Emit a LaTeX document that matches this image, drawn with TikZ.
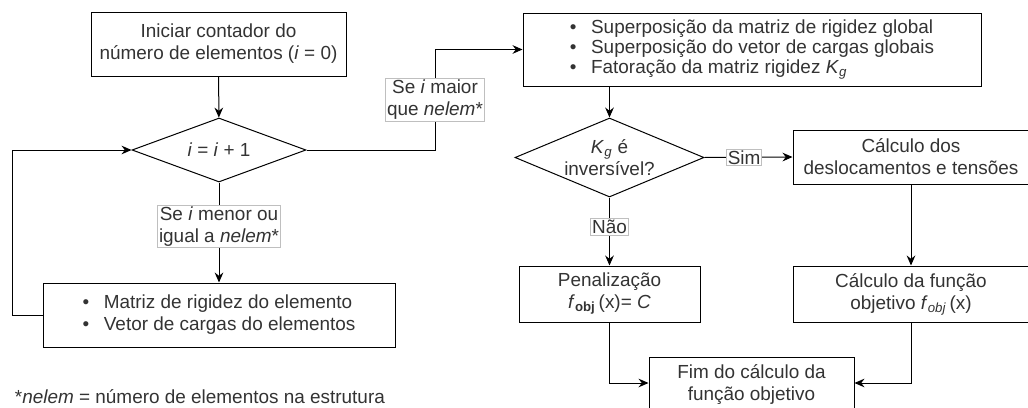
\documentclass[tikz,border=0pt]{standalone}
\usepackage{fontspec}
\setmainfont{Liberation Sans}
\usetikzlibrary{shapes.geometric,arrows.meta}

\newcommand\bul{\makebox[16pt][l]{\textbullet}}

\tikzset{
  caixa/.style={draw, rectangle, text=black!80, inner sep=0pt, align=center},
  losango/.style={draw, diamond, text=black!80, inner sep=0pt, align=center},
  rotulo/.style={draw=black!25, line width=0.5pt, fill=white, text=black!80, inner sep=1pt, align=center},
  seta/.style={-{Stealth[length=7.5pt,width=6.5pt,inset=2.5pt]}},
}

\begin{document}
\begin{tikzpicture}[x=0.75pt, y=-0.75pt, line width=0.75pt, font=\fontsize{14.2}{16.5}\selectfont]
\useasboundingbox (0,0) rectangle (1028,407);
\clip (0,0) rectangle (1028,407);

%lado esquerdo
\node[caixa, minimum width=191.25pt, minimum height=48pt] (inicio) at (218.5,44) {Iniciar contador do\\número de elementos (\textit{i} = 0)};
\node[losango, shape aspect=2.7, minimum width=130.5pt, minimum height=48pt] (cont) at (219,150) {\textit{i} = \textit{i} + 1};
\node[caixa, minimum width=264pt, minimum height=48pt, align=left] (elem) at (219,315) {\bul Matriz de rigidez do elemento\\\bul Vetor de cargas do elementos};
\node[anchor=west, text=black!80] (nota) at (10,397) {*\textit{nelem} = número de elementos na estrutura};

%lado direito
\node[caixa, minimum width=343.5pt, minimum height=54.75pt, align=left, font=\fontsize{14.2}{15}\selectfont] (global) at (752,49.5) {\bul Superposição da matriz de rigidez global\\\bul Superposição do vetor de cargas globais\\\bul Fatoração da matriz rigidez \textit{K}\textsubscript{\textit{g}}};
\node[losango, shape aspect=2.4, minimum width=141.75pt, minimum height=59.25pt] (inv) at (609.5,157.5) {\textit{K}\textsubscript{\textit{g}} é\\inversível?};
\node[caixa, minimum width=177pt, minimum height=40.5pt] (desl) at (911,157) {Cálculo dos\\deslocamentos e tensões};
\node[caixa, minimum width=135.75pt, minimum height=42pt] (pen) at (609.5,294) {Penalização\\\textit{f}\textsubscript{\textbf{obj}}\,(x)= \textit{C}};
\node[caixa, minimum width=177pt, minimum height=42pt] (fobj) at (911,294) {Cálculo da função\\objetivo \textit{f}\textsubscript{\textit{obj}}\,(x)};
\node[caixa, minimum width=153.75pt, minimum height=42pt] (fim) at (751.5,385) {Fim do cálculo da\\função objetivo};

%ligacoes
\coordinate (volta) at (12,315);
\coordinate (canto) at (435,150);
\draw[seta] (inicio) -- (cont);
\draw[seta] (cont) -- node[rotulo, pos=0.44] {Se \textit{i} menor ou\\igual a \textit{nelem}*} (elem);
\draw[seta] (elem.west) -- (volta) |- (cont.west);
\draw[seta] (cont.east) -- (canto) |- node[rotulo, pos=0.25] {Se \textit{i} maior\\que \textit{nelem}*} (global.west);
\draw[seta] (inv.north |- global.south) -- (inv.north);
\draw[seta] (inv.east) -- node[rotulo, pos=0.45] {Sim} (desl.west);
\draw[seta] (inv.south) -- node[rotulo, pos=0.43] {Não} (pen.north);
\draw[seta] (desl) -- (fobj);
\draw[seta] (pen.south) |- ([yshift=1.5pt]fim.west);
\draw[seta] (fobj.south) |- ([yshift=1.5pt]fim.east);

\end{tikzpicture}
\end{document}
